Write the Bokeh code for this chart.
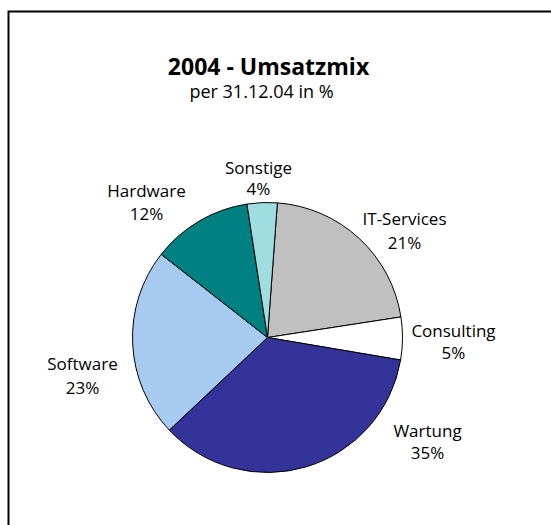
import math
from bokeh.plotting import figure
from bokeh.models import Range1d, ColumnDataSource
from bokeh.core.properties import value
from bokeh.embed import file_html
from bokeh.resources import INLINE

# ---- data ----
categories = ["IT-Services", "Consulting", "Wartung", "Software", "Hardware", "Sonstige"]
shares = [21.4, 5.1, 35.3, 22.6, 12.0, 3.6]
colors = ["#C0C0C0", "#FFFFFF", "#333399", "#A6CAF0", "#008080", "#A0DDE0"]
title_text = "2004 - Umsatzmix"
subtitle_text = "per 31.12.04 in %"

# ---- layout (page pixel coordinates) ----
W, H = 551, 525
first_angle = 4.2          # degrees clockwise from 12 o'clock
cx_px, cy_px, r_px = 267, 337, 135
label_x_px = [404, 453, 427, 82, 146, 258]
name_base_px = [218, 330, 430, 363, 190, 167]
pct_base_px = [242, 352, 452, 387, 213, 188]


def fx(px):
    return px


def fy(py):
    return H - py


p = figure(width=W, height=H, output_backend="svg", toolbar_location=None,
           x_range=Range1d(0, W), y_range=Range1d(0, H), min_border=0)
p.axis.visible = False
p.grid.visible = False
p.outline_line_color = None
p.background_fill_color = "white"

total = sum(shares)
starts, ends = [], []
acc = first_angle
for s in shares:
    a0 = acc
    a1 = acc + s / total * 360.0
    starts.append(math.radians(90 - a0))
    ends.append(math.radians(90 - a1))
    acc = a1

src = ColumnDataSource(dict(x=[fx(cx_px)] * len(shares), y=[fy(cy_px)] * len(shares),
                            start=starts, end=ends, color=colors, cat=categories))
p.wedge(x="x", y="y", radius=r_px, start_angle="start", end_angle="end",
        direction="clock", fill_color="color", line_color="black", line_width=1,
        source=src)

font = value("Open Sans")
lab = ColumnDataSource(dict(
    x=[fx(v) for v in label_x_px],
    yn=[fy(v) for v in name_base_px],
    yp=[fy(v) for v in pct_base_px],
    name=categories,
    pct=[f"{round(s):d}%" for s in shares],
))
p.text(x="x", y="yn", text="name", source=lab, text_font=font, text_font_size="17px",
       text_align="center", text_baseline="alphabetic", text_color="black")
p.text(x="x", y="yp", text="pct", source=lab, text_font=font, text_font_size="17px",
       text_align="center", text_baseline="alphabetic", text_color="black")

p.text(x=[fx(268)], y=[fy(65)], text=[title_text], text_font=font, text_font_size="23px",
       text_font_style="bold", text_align="center", text_baseline="alphabetic",
       text_color="black")
p.text(x=[fx(261)], y=[fy(90)], text=[subtitle_text], text_font=font, text_font_size="18px",
       text_align="center", text_baseline="alphabetic", text_color="black")

# frame of the chart box (left and top edges; the rest lies outside the picture)
p.line(x=[fx(8), fx(8), fx(W + 10)], y=[fy(H + 10), fy(11), fy(11)],
       line_color="black", line_width=2, line_join="miter")

open("out.html", "w").write(file_html(p, INLINE))
